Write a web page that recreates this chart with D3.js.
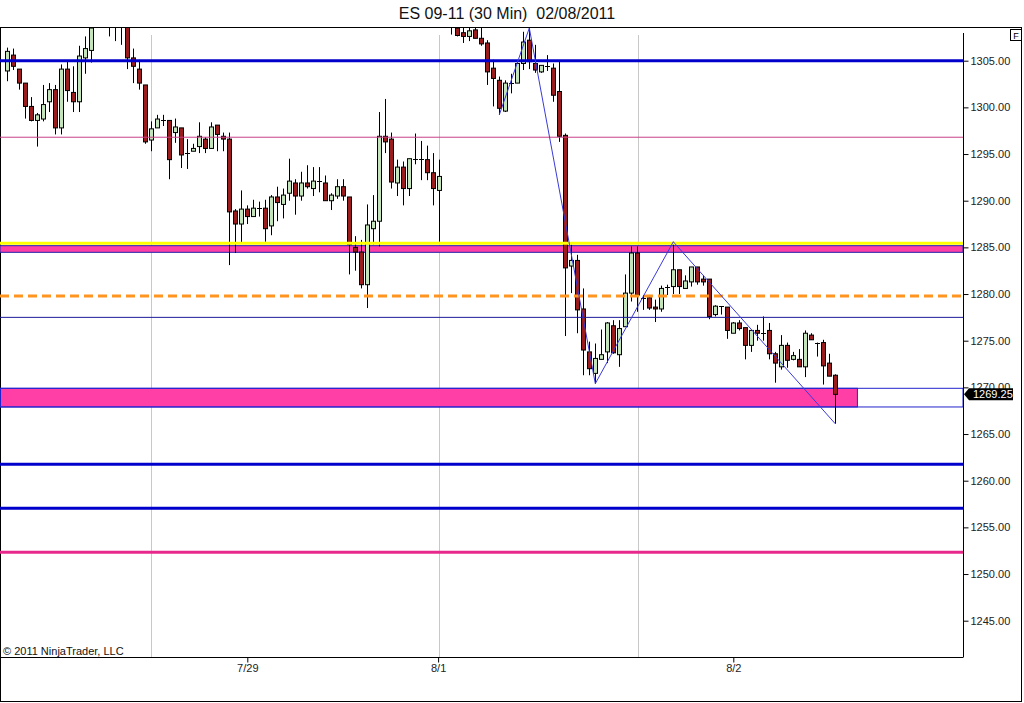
<!DOCTYPE html>
<html><head><meta charset="utf-8">
<script src="https://cdn.jsdelivr.net/npm/d3@7"></script>
<style>
html,body{margin:0;padding:0;background:#fff;}
svg{display:block;font-family:"Liberation Sans",Arial,sans-serif;}
</style></head>
<body>
<svg id="chart" width="1024" height="703"></svg>
<script>
// ---- data ----
const title = "ES 09-11 (30 Min)  02/08/2011";
const copyright = "\u00A9 2011 NinjaTrader, LLC";
const opens = [1303.9,1305.6,1304.1,1302.6,1300.1,1298.6,1298.75,1300.6,1301.9,1297.8,1304.1,1301.6,1300.6,1305.3,1306.1,1309.0,1310.0,1309.3,1309.8,1309.0,
1309.2,1305.3,1304.1,1302.4,1296.5,1297.8,1298.6,1298.6,1297.3,1297.8,1295.1,1295.3,1295.8,1296.6,1295.6,1298.1,1296.9,1296.6,1288.9,1287.5,
1289.1,1288.3,1289.2,1289.2,1287.3,1290.4,1289.6,1290.8,1291.9,1290.5,1291.9,1291.3,1292.1,1291.9,1290.0,1290.5,1291.5,1290.4,1285.0,1284.5,
1281.0,1287.0,1287.8,1296.9,1296.6,1291.9,1293.6,1291.3,1294.5,1294.5,1294.4,1293.0,1291.1,1309.0,1309.0,1308.5,1308.0,1307.6,1308.3,1307.4,
1306.9,1304.2,1302.9,1299.6,1302.6,1302.6,1304.7,1307.2,1304.7,1303.8,1304.4,1304.2,1301.7,1297.0,1283.0,1283.6,1278.4,1273.8,1271.5,1273.0,
1273.8,1276.6,1273.5,1276.5,1280.1,1284.4,1279.6,1279.6,1278.6,1278.4,1280.8,1280.8,1282.6,1280.6,1281.3,1282.9,1281.6,1281.6,1277.8,1278.7,
1278.6,1275.8,1276.9,1276.4,1274.5,1276.1,1275.8,1276.1,1273.6,1272.2,1274.5,1273.0,1273.0,1272.2,1275.6,1274.8,1274.8,1272.6,1271.3];
const highs = [1306.4,1306.3,1304.1,1302.6,1301.1,1299.4,1302.4,1302.6,1302.4,1304.6,1304.9,1304.4,1306.6,1307.6,1309.5,1310.5,1311.0,1310.5,1310.5,1310.0,
1309.8,1306.3,1305.1,1302.4,1298.5,1299.2,1299.2,1298.6,1298.8,1297.8,1296.6,1296.1,1298.4,1296.8,1298.4,1298.1,1297.3,1297.3,1289.1,1291.1,
1289.5,1290.1,1289.9,1290.1,1290.6,1291.5,1291.3,1294.5,1292.3,1293.1,1293.8,1293.6,1293.6,1292.7,1290.8,1292.3,1292.3,1290.4,1286.2,1285.8,
1289.6,1290.6,1299.5,1300.9,1297.3,1294.4,1294.2,1294.5,1297.2,1296.4,1295.9,1295.1,1294.4,1310.5,1310.0,1309.5,1308.5,1309.0,1309.0,1308.5,
1307.2,1305.1,1303.3,1302.9,1303.6,1304.9,1308.1,1308.5,1306.7,1304.5,1305.6,1304.7,1304.9,1297.2,1285.3,1284.2,1280.6,1274.9,1274.7,1276.2,
1277.0,1277.2,1277.2,1282.1,1285.1,1285.1,1279.9,1279.9,1279.4,1280.9,1281.0,1285.6,1282.6,1282.0,1282.9,1282.9,1282.0,1281.6,1278.8,1278.7,
1278.6,1277.0,1277.2,1276.4,1276.1,1276.7,1277.6,1276.9,1273.8,1275.6,1274.8,1273.8,1274.1,1276.1,1275.8,1274.8,1275.1,1273.6,1271.4];
const lows = [1302.8,1304.0,1301.9,1298.8,1298.5,1295.8,1298.5,1299.5,1297.1,1297.1,1300.6,1299.5,1299.5,1303.6,1304.8,1308.5,1308.8,1307.6,1307.1,1306.7,
1304.1,1302.6,1301.9,1296.1,1295.3,1297.8,1298.0,1292.3,1296.2,1293.5,1293.4,1295.3,1295.1,1295.1,1295.6,1295.3,1295.3,1283.1,1284.4,1285.5,
1287.5,1288.3,1288.3,1285.6,1286.3,1287.8,1288.1,1290.0,1288.5,1290.0,1291.3,1290.5,1290.9,1290.0,1289.0,1290.2,1290.0,1282.1,1282.5,1280.6,
1278.5,1285.3,1285.1,1295.1,1291.3,1290.5,1289.5,1290.5,1293.9,1292.2,1292.2,1289.5,1285.6,1308.5,1307.8,1307.6,1306.9,1307.1,1307.4,1306.6,
1302.4,1300.1,1299.2,1299.5,1301.5,1302.6,1304.0,1304.1,1303.7,1303.7,1303.9,1300.6,1296.3,1275.5,1280.1,1275.8,1271.3,1271.3,1270.4,1273.0,
1272.6,1273.6,1272.2,1276.5,1279.2,1278.1,1278.3,1278.3,1277.0,1278.1,1279.9,1280.0,1280.0,1280.6,1280.8,1281.0,1280.9,1277.3,1277.6,1277.8,
1275.2,1275.8,1276.1,1273.0,1273.8,1275.0,1275.0,1273.0,1270.5,1271.9,1272.1,1272.9,1272.2,1271.1,1275.1,1273.3,1270.3,1271.2,1266.1];
const closes = [1306.0,1304.4,1302.6,1300.1,1298.6,1299.2,1300.3,1301.9,1297.8,1304.1,1301.8,1300.6,1305.5,1306.3,1308.5,1310.0,1309.3,1309.8,1309.0,1309.5,
1305.3,1304.4,1302.6,1296.3,1297.7,1298.75,1298.6,1294.4,1297.9,1294.9,1295.1,1295.6,1296.9,1295.6,1297.9,1297.1,1296.6,1288.8,1287.5,1289.1,
1288.3,1289.2,1289.2,1287.0,1290.4,1289.8,1290.6,1292.1,1290.5,1291.9,1291.5,1292.1,1292.1,1290.0,1290.6,1291.5,1290.5,1285.3,1284.5,1281.0,
1287.4,1287.8,1296.9,1296.3,1292.0,1293.6,1291.3,1294.5,1294.5,1294.5,1293.0,1291.3,1292.6,1309.8,1309.5,1307.7,1307.6,1308.2,1307.4,1306.8,
1303.8,1303.1,1299.9,1302.6,1302.6,1304.7,1307.0,1304.9,1304.0,1304.5,1304.4,1301.3,1296.9,1282.8,1283.6,1278.3,1274.0,1272.0,1273.1,1273.5,
1276.9,1273.7,1276.3,1280.1,1284.4,1279.9,1279.6,1278.5,1278.4,1280.6,1280.8,1282.6,1280.8,1281.4,1282.9,1281.3,1281.3,1277.6,1278.7,1278.7,
1276.1,1276.9,1276.3,1274.5,1276.1,1275.8,1275.8,1273.6,1272.6,1274.5,1272.9,1273.4,1272.2,1275.8,1275.1,1274.8,1272.3,1271.2,1269.25];

const yTicks = [1245,1250,1255,1260,1265,1270,1275,1280,1285,1290,1295,1300,1305];
const xTickIdx = [40, 71.8, 121];
const xTickLabels = ["7/29", "8/1", "8/2"];
const gridIdx = [24, 72, 105.1];
const lastPrice = 1269.25;

// drawing objects (price levels)
const thickBlueLevels = [1305, 1261.76, 1257.04];
const thinMagentaLevel = 1296.8;
const yellowLevel = 1285.44;
const bandLevels = [1284.47, 1285.18];
const orangeLevel = 1279.8;
const navyLevel = 1277.5;
const zoneLevels = [1267.9, 1269.9];
const zoneFillEndIdx = 141.6;
const magentaThickLevel = 1252.33;
const zigzagIdx = [82, 87, 98, 111, 138];
const zigzagPrice = [1299.2, 1308.5, 1270.4, 1285.6, 1266.1];

// ---- layout ----
const svg = d3.select("#chart");
const plot = {left: 0, right: 963, top: 28, bottom: 657};
const x = d3.scaleLinear().domain([0, 138]).range([7.3, 835.3]);
const y = d3.scaleLinear().domain([1245, 1305]).range([620.7, 60.7]);

// outer frame
svg.append("rect").attr("x", 0.5).attr("y", 27.5).attr("width", 1021).attr("height", 674)
  .attr("fill", "#fff").attr("stroke", "#000").attr("stroke-width", 1);

// title
svg.append("text").attr("x", 507).attr("y", 19).attr("text-anchor", "middle")
  .attr("font-size", 16).attr("fill", "#111").style("white-space", "pre").text(title);

svg.append("defs").append("clipPath").attr("id", "clip").append("rect")
  .attr("x", plot.left).attr("y", plot.top).attr("width", plot.right - plot.left).attr("height", plot.bottom - plot.top);

const g = svg.append("g").attr("clip-path", "url(#clip)");

// vertical grid
g.selectAll("line.grid").data(gridIdx).join("line")
  .attr("x1", d => Math.round(x(d)) + 0.5).attr("x2", d => Math.round(x(d)) + 0.5)
  .attr("y1", 35).attr("y2", plot.bottom).attr("stroke", "#c8c8c8").attr("stroke-width", 1);

// pink zone
g.append("rect").attr("x", 0.5).attr("y", y(zoneLevels[1])).attr("width", x(zoneFillEndIdx))
  .attr("height", y(zoneLevels[0]) - y(zoneLevels[1])).attr("fill", "#ff3fa6").attr("stroke", "#2222cc");
g.append("rect").attr("x", 0.5).attr("y", y(zoneLevels[1])).attr("width", plot.right - 0.5)
  .attr("height", y(zoneLevels[0]) - y(zoneLevels[1])).attr("fill", "none").attr("stroke", "#2222cc");

// band
g.append("rect").attr("x", 0).attr("y", y(bandLevels[1])).attr("width", plot.right)
  .attr("height", y(bandLevels[0]) - y(bandLevels[1])).attr("fill", "#ff3fa6").attr("stroke", "#2222aa");

// candles
const idx = d3.range(opens.length);
const cg = g.append("g");
cg.selectAll("line.wick").data(idx).join("line")
  .attr("x1", i => Math.round(x(i)) + 0.5).attr("x2", i => Math.round(x(i)) + 0.5)
  .attr("y1", i => y(highs[i])).attr("y2", i => y(lows[i]))
  .attr("stroke", "#000").attr("stroke-width", 1);
cg.selectAll("rect.body").data(idx.filter(i => Math.abs(opens[i] - closes[i]) > 0.05)).join("rect")
  .attr("x", i => Math.round(x(i)) - 1.5).attr("width", 4)
  .attr("y", i => y(Math.max(opens[i], closes[i])))
  .attr("height", i => Math.max(1, Math.abs(y(opens[i]) - y(closes[i]))))
  .attr("fill", i => closes[i] > opens[i] ? "#c4e4bc" : "#9a1c1c")
  .attr("stroke", "#000").attr("stroke-width", 1);
cg.selectAll("line.doji").data(idx.filter(i => Math.abs(opens[i] - closes[i]) <= 0.05)).join("line")
  .attr("x1", i => Math.round(x(i)) - 2).attr("x2", i => Math.round(x(i)) + 3)
  .attr("y1", i => Math.round(y(closes[i])) + 0.5).attr("y2", i => Math.round(y(closes[i])) + 0.5)
  .attr("stroke", "#000").attr("stroke-width", 1);

// horizontal lines
const hline = (p, color, w, dash) => {
  const l = g.append("line").attr("x1", 0).attr("x2", plot.right)
    .attr("y1", y(p)).attr("y2", y(p)).attr("stroke", color).attr("stroke-width", w);
  if (dash) l.attr("stroke-dasharray", dash);
};
hline(yellowLevel, "#ffff00", 3);
thickBlueLevels.forEach(p => hline(p, "#0000cc", 3));
hline(thinMagentaLevel, "#c8408a", 1);
hline(orangeLevel, "#ff9420", 3, "9,5");
hline(navyLevel, "#1a1a99", 1);
hline(magentaThickLevel, "#e8288c", 3);

// zigzag
g.append("path").datum(zigzagIdx.map((d, k) => [d, zigzagPrice[k]]))
  .attr("d", d3.line().x(d => x(d[0])).y(d => y(d[1])))
  .attr("fill", "none").attr("stroke", "#3a3ad8").attr("stroke-width", 1);

// copyright
svg.append("text").attr("x", 3).attr("y", 655).attr("font-size", 11).attr("fill", "#111").text(copyright);

// y axis
const yAxis = svg.append("g").attr("transform", `translate(${plot.right + 0.5},0)`)
  .call(d3.axisRight(y).tickValues(yTicks).tickSize(5).tickSizeOuter(0).tickPadding(2).tickFormat(d3.format(".2f")));
yAxis.select(".domain").remove();
yAxis.selectAll("text").attr("font-size", 11).attr("fill", "#222").attr("font-family", "Liberation Sans, Arial, sans-serif");
svg.append("line").attr("x1", plot.right + 0.5).attr("x2", plot.right + 0.5).attr("y1", 33).attr("y2", plot.bottom)
  .attr("stroke", "#000");

// x axis
const xAxis = svg.append("g").attr("transform", `translate(0,${plot.bottom + 0.5})`)
  .call(d3.axisBottom(x).tickValues(xTickIdx).tickSize(5).tickPadding(2).tickFormat((d, k) => xTickLabels[k]));
xAxis.select(".domain").remove();
xAxis.selectAll("text").attr("font-size", 11).attr("fill", "#222").attr("font-family", "Liberation Sans, Arial, sans-serif");
svg.append("line").attr("x1", 0).attr("x2", plot.right + 0.5).attr("y1", plot.bottom + 0.5).attr("y2", plot.bottom + 0.5)
  .attr("stroke", "#000");

// last price marker
const py = y(lastPrice);
svg.append("path").attr("d", `M${plot.right + 1},${py} L${plot.right + 6},${py - 6} L${plot.right + 50},${py - 6} L${plot.right + 50},${py + 6} L${plot.right + 6},${py + 6} Z`)
  .attr("fill", "#000");
svg.append("text").attr("x", plot.right + 10).attr("y", py + 4).attr("font-size", 11).attr("fill", "#fff").text(d3.format(".2f")(lastPrice));

// F box
svg.append("rect").attr("x", 1010.5).attr("y", 29.5).attr("width", 11).attr("height", 11).attr("fill", "#fff").attr("stroke", "#000");
svg.append("text").attr("x", 1016).attr("y", 38.5).attr("text-anchor", "middle").attr("font-size", 9).attr("fill", "#000").text("F");
</script>
</body></html>
